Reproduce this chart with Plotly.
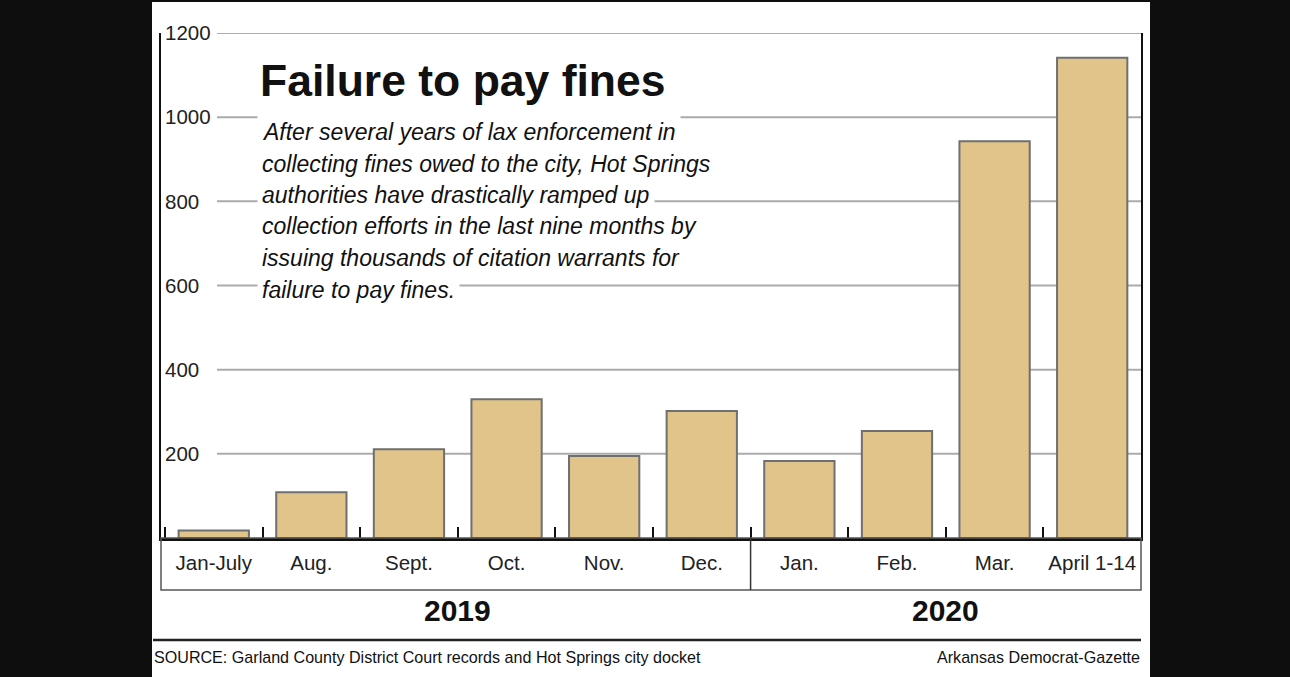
import plotly.graph_objects as go

# ---- data ----
categories = ["Jan-July", "Aug.", "Sept.", "Oct.", "Nov.", "Dec.", "Jan.", "Feb.", "Mar.", "April 1-14"]
warrants = [18, 109, 211, 330, 195, 302, 183, 254, 943, 1141]
years = ["2019", "2020"]
year_spans = [(0, 5), (6, 9)]          # first / last category index of each year
y_ticks = [200, 400, 600, 800, 1000, 1200]

title = "Failure to pay fines"
subtitle_lines = [
    "After several years of lax enforcement in",
    "collecting fines owed to the city, Hot Springs",
    "authorities have drastically ramped up",
    "collection efforts in the last nine months by",
    "issuing thousands of citation warrants for",
    "failure to pay fines.",
]
source = "SOURCE: Garland County District Court records and Hot Springs city docket"
credit = "Arkansas Democrat-Gazette"

W, H = 1290, 677
def px(x):  # pixel -> paper x
    return x / W
def py(y):  # pixel -> paper y
    return (H - y) / H

REG = "Liberation Sans, Arial, sans-serif"

fig = go.Figure()
fig.add_trace(go.Bar(
    x=categories, y=warrants,
    marker=dict(color="#E1C48A", line=dict(color="#6f6f6f", width=2)),
    width=0.72, hoverinfo="x+y",
))
# invisible companion trace carrying the tick-label axis drawn just right of the left frame
fig.add_trace(go.Scatter(x=[categories[0]], y=[0], yaxis="y2", mode="markers",
                         marker=dict(opacity=0), hoverinfo="skip", showlegend=False))

shapes = []
shapes.append(dict(type="rect", xref="paper", yref="paper", x0=px(152), x1=px(1150), y0=0, y1=py(2),
                   fillcolor="white", line=dict(width=0), layer="below"))
for t in y_ticks:
    shapes.append(dict(type="line", xref="paper", yref="y", x0=px(217), x1=px(1141), y0=t, y1=t,
                       line=dict(color="#ababab", width=2), layer="below"))
shapes.append(dict(type="rect", xref="x domain", yref="paper", x0=0, x1=1, y0=py(590), y1=py(538),
                   line=dict(color="#555555", width=1.5), fillcolor="rgba(0,0,0,0)"))
shapes.append(dict(type="line", xref="x", yref="paper", x0=year_spans[0][1] + 0.5, x1=year_spans[0][1] + 0.5,
                   y0=py(590), y1=py(538), line=dict(color="#333333", width=1.5)))
shapes.append(dict(type="line", xref="paper", yref="paper", x0=px(153), x1=px(1141), y0=py(640), y1=py(640),
                   line=dict(color="#222222", width=2.5)))

annotations = []
annotations.append(dict(text="<b>" + title + "</b>", xref="paper", yref="paper", x=px(257), y=py(80.5),
                        xanchor="left", yanchor="middle", showarrow=False, bgcolor="white", borderpad=2,
                        font=dict(family=REG, size=44.5, color="#111111")))
line_y = [132, 163.5, 195, 226.5, 258, 289.5]
for txt, yy in zip(subtitle_lines, line_y):
    annotations.append(dict(text="<i>" + txt + "</i>", xref="paper", yref="paper", x=px(257), y=py(yy),
                            xanchor="left", yanchor="middle", showarrow=False, bgcolor="white", borderpad=4,
                            font=dict(family=REG, size=23, color="#111111")))
for yr, (a, b) in zip(years, year_spans):
    annotations.append(dict(text="<b>" + yr + "</b>", xref="x", yref="paper", x=(a + b) / 2, y=py(610),
                            xanchor="center", yanchor="middle", showarrow=False,
                            font=dict(family=REG, size=30, color="#111111")))
annotations.append(dict(text=source, xref="paper", yref="paper", x=px(152), y=py(657), xanchor="left",
                        yanchor="middle", showarrow=False, font=dict(family=REG, size=16.1, color="#111111")))
annotations.append(dict(text=credit, xref="paper", yref="paper", x=px(1142), y=py(657), xanchor="right",
                        yanchor="middle", showarrow=False, font=dict(family=REG, size=16.1, color="#111111")))

fig.update_layout(
    width=W, height=H,
    margin=dict(l=0, r=0, t=0, b=0, autoexpand=False),
    paper_bgcolor="#0e0e0e", plot_bgcolor="white",
    showlegend=False, bargap=0.28,
    shapes=shapes, annotations=annotations,
    xaxis=dict(domain=[px(161), px(1141)], type="category", showgrid=False, automargin=False,
               showline=True, linecolor="#111111", linewidth=3,
               ticks="inside", tickson="boundaries", ticklen=11, tickwidth=2, tickcolor="#111111",
               tickangle=0,
               tickfont=dict(family=REG, size=20.5, color="#222222"), ticklabelstandoff=4,
               fixedrange=True),
    yaxis=dict(domain=[py(538), py(33)], range=[0, 1200], showgrid=False, zeroline=False, automargin=False,
               showline=True, mirror=True, linecolor="#111111", linewidth=2,
               tickvals=y_ticks, showticklabels=False, ticks="", fixedrange=True),
    yaxis2=dict(overlaying="y", matches="y", side="right", anchor="free", position=px(161), automargin=False,
                showgrid=False, zeroline=False, showline=False, ticks="", tickvals=y_ticks,
                ticklabelstandoff=3,
                tickfont=dict(family=REG, size=20.5, color="#222222"), fixedrange=True),
)

fig.write_html("out.html", config={"displayModeBar": False},
               post_script="document.body.style.margin='0';document.body.style.overflow='hidden';")
